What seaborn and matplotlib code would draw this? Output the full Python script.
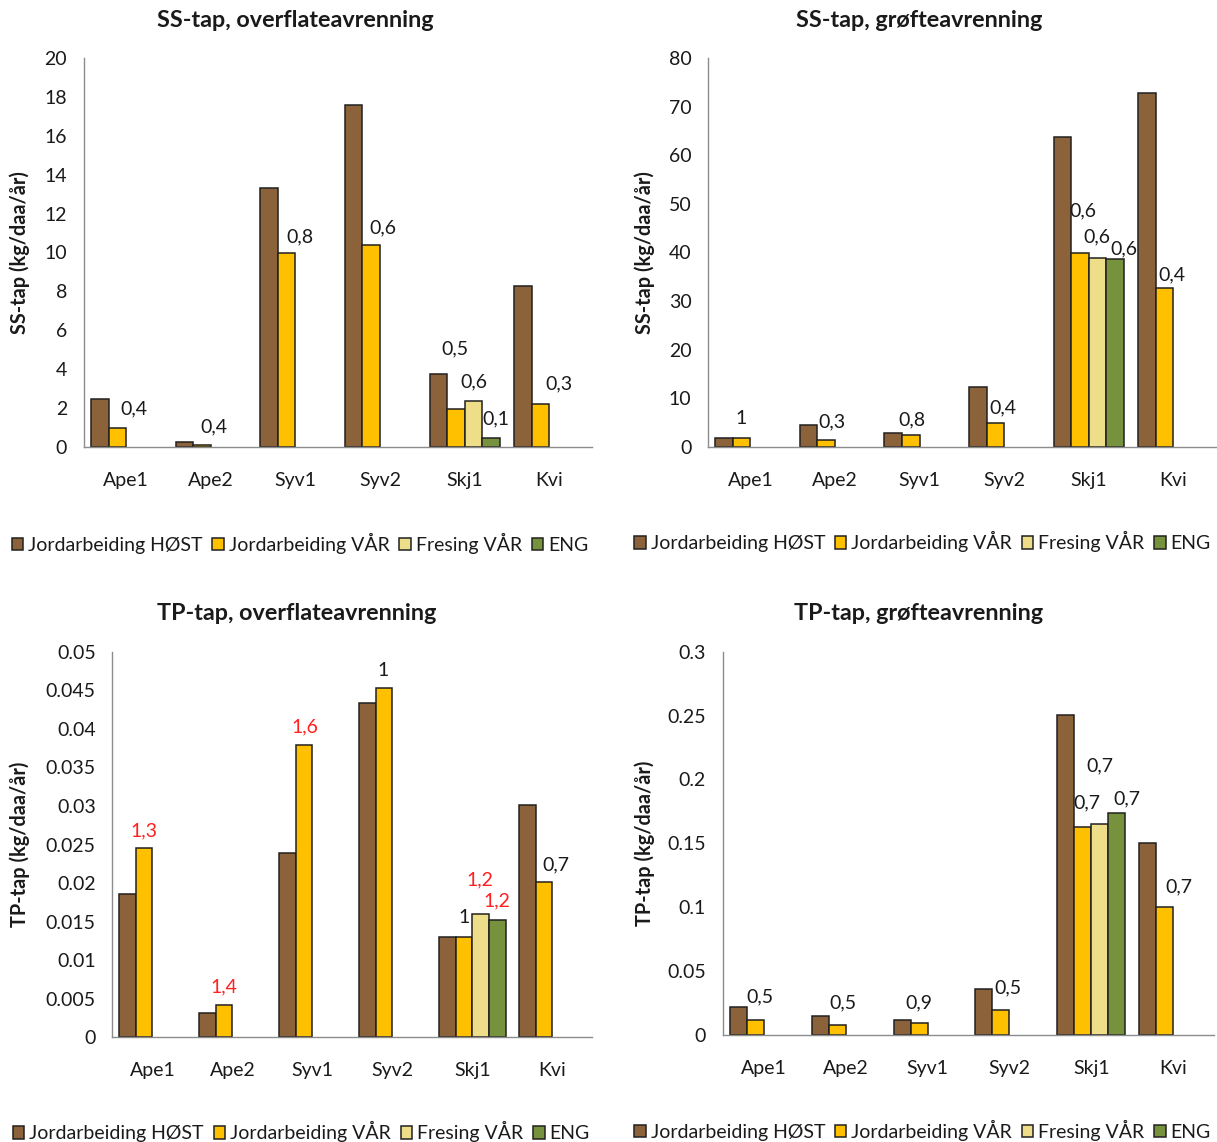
import numpy as np
import pandas as pd
import matplotlib
matplotlib.use("Agg")
import matplotlib.pyplot as plt
from matplotlib.ticker import FuncFormatter, FixedLocator
import seaborn as sns

# ---- data -------------------------------------------------------------
sites = ["Ape1", "Ape2", "Syv1", "Syv2", "Skj1", "Kvi"]
treatments = ["Jordarbeiding HØST", "Jordarbeiding VÅR", "Fresing VÅR", "ENG"]
colors = ["#8B6239", "#FFC000", "#EEDE8A", "#77923C"]

# SS-tap, overflateavrenning (kg/daa/år); None = not measured
ss_surf_host = [2.48, 0.27, 13.3, 17.57, 3.77, 8.26]
ss_surf_var = [0.98, 0.11, 9.97, 10.37, 1.95, 2.18]
ss_surf_fres = [None, None, None, None, 2.37, None]
ss_surf_eng = [None, None, None, None, 0.45, None]

# SS-tap, grøfteavrenning
ss_drain_host = [1.85, 4.46, 2.75, 12.36, 63.7, 72.9]
ss_drain_var = [1.85, 1.44, 2.33, 4.88, 39.8, 32.6]
ss_drain_fres = [None, None, None, None, 38.9, None]
ss_drain_eng = [None, None, None, None, 38.7, None]

# TP-tap, overflateavrenning
tp_surf_host = [0.0186, 0.0031, 0.0239, 0.0434, 0.0130, 0.0301]
tp_surf_var = [0.0245, 0.0042, 0.0379, 0.0453, 0.0130, 0.0201]
tp_surf_fres = [None, None, None, None, 0.0160, None]
tp_surf_eng = [None, None, None, None, 0.0152, None]

# TP-tap, grøfteavrenning
tp_drain_host = [0.0222, 0.0149, 0.0115, 0.0363, 0.2502, 0.1505]
tp_drain_var = [0.0115, 0.0078, 0.0097, 0.0196, 0.1628, 0.1004]
tp_drain_fres = [None, None, None, None, 0.1649, None]
tp_drain_eng = [None, None, None, None, 0.1735, None]

# ratio labels: (site index, text, colour, x offset in categories, y position)
ss_surf_labels = [
    (0, "0,4", "k", 0.09, 1.97), (1, "0,4", "k", 0.04, 1.03),
    (2, "0,8", "k", 0.055, 10.8), (3, "0,6", "k", 0.03, 11.27),
    (4, "0,5", "k", -0.11, 5.04), (4, "0,6", "k", 0.11, 3.34),
    (4, "0,1", "k", 0.37, 1.41), (5, "0,3", "k", 0.12, 3.26),
]
ss_drain_labels = [
    (0, "1", "k", -0.11, 5.84), (1, "0,3", "k", -0.03, 5.15),
    (2, "0,8", "k", -0.09, 5.63), (3, "0,4", "k", -0.016, 8.04),
    (4, "0,6", "k", -0.066, 48.6), (4, "0,6", "k", 0.10, 43.3),
    (4, "0,6", "k", 0.42, 40.7), (5, "0,4", "k", -0.016, 35.4),
]
tp_surf_labels = [
    (0, "1,3", "red", -0.10, 0.0268), (1, "1,4", "red", -0.10, 0.00657),
    (2, "1,6", "red", -0.096, 0.0402), (3, "1", "k", -0.118, 0.0476),
    (4, "1", "k", -0.107, 0.0155), (4, "1,2", "red", 0.10, 0.0204),
    (4, "1,2", "red", 0.31, 0.0177), (5, "0,7", "k", 0.04, 0.0224),
]
tp_drain_labels = [
    (0, "0,5", "k", -0.047, 0.0295), (1, "0,5", "k", -0.028, 0.0253),
    (2, "0,9", "k", -0.107, 0.0248), (3, "0,5", "k", -0.018, 0.0365),
    (4, "0,7", "k", 0.103, 0.211), (4, "0,7", "k", -0.061, 0.182),
    (4, "0,7", "k", 0.435, 0.185), (5, "0,7", "k", 0.063, 0.1156),
]


def frame(host, var, fres, eng):
    rows = []
    for series, name in zip([host, var, fres, eng], treatments):
        for site, v in zip(sites, series):
            if v is not None:
                rows.append({"site": site, "treatment": name, "value": v})
    return pd.DataFrame(rows)


panels = [
    dict(df=frame(ss_surf_host, ss_surf_var, ss_surf_fres, ss_surf_eng),
         labels=ss_surf_labels, ymax=20, step=2, ylabel="SS-tap (kg/daa/år)",
         title="SS-tap, overflateavrenning",
         rect=[0.0689, 0.6088, 0.4172, 0.3402], title_xy=(0.2425, 0.982),
         ylab_x=0.0165, legend_y=0.5245, legend_x=0.2465),
    dict(df=frame(ss_drain_host, ss_drain_var, ss_drain_fres, ss_drain_eng),
         labels=ss_drain_labels, ymax=80, step=10, ylabel="SS-tap (kg/daa/år)",
         title="SS-tap, grøfteavrenning",
         rect=[0.5818, 0.6088, 0.4170, 0.3402], title_xy=(0.755, 0.982),
         ylab_x=0.530, legend_y=0.5255, legend_x=0.758),
    dict(df=frame(tp_surf_host, tp_surf_var, tp_surf_fres, tp_surf_eng),
         labels=tp_surf_labels, ymax=0.05, step=0.005, ylabel="TP-tap (kg/daa/år)",
         title="TP-tap, overflateavrenning",
         rect=[0.0923, 0.0917, 0.3944, 0.3376], title_xy=(0.2435, 0.463),
         ylab_x=0.0165, legend_y=0.0090, legend_x=0.2475),
    dict(df=frame(tp_drain_host, tp_drain_var, tp_drain_fres, tp_drain_eng),
         labels=tp_drain_labels, ymax=0.3, step=0.05, ylabel="TP-tap (kg/daa/år)",
         title="TP-tap, grøfteavrenning",
         rect=[0.5938, 0.0937, 0.4040, 0.3356], title_xy=(0.7545, 0.463),
         ylab_x=0.530, legend_y=0.0105, legend_x=0.758),
]

sns.set_theme(style="white")
plt.rcParams["font.family"] = ["Lato", "DejaVu Sans"]

fig = plt.figure(figsize=(12.17, 11.42), dpi=100)
fig.patch.set_facecolor("white")

text_col = "#1a1a1a"
axis_col = "#8c8c8c"

for p in panels:
    ax = fig.add_axes(p["rect"])
    sns.barplot(data=p["df"], x="site", y="value", hue="treatment",
                order=sites, hue_order=treatments, palette=colors,
                saturation=1, width=0.83, errorbar=None,
                edgecolor="#202020", linewidth=1.1, ax=ax, legend=True)
    handles, labs = ax.get_legend_handles_labels()
    ax.get_legend().remove()

    ax.set_xlim(-0.5, len(sites) - 0.5)
    ax.set_ylim(0, p["ymax"])
    ticks = np.round(np.arange(0, p["ymax"] + p["step"] / 2, p["step"]), 6)
    ax.yaxis.set_major_locator(FixedLocator(ticks))
    ax.yaxis.set_major_formatter(FuncFormatter(lambda v, _: f"{v:g}"))

    # category separators as minor ticks on the x axis
    ax.xaxis.set_minor_locator(FixedLocator(np.arange(-0.5, len(sites), 1.0)))
    ax.tick_params(axis="x", which="major", length=0, pad=18,
                   labelsize=14, labelcolor=text_col)
    ax.tick_params(axis="x", which="minor", length=8, width=1.0,
                   color=axis_col, direction="out")
    ax.tick_params(axis="y", which="major", length=6, width=1.0,
                   color=axis_col, direction="out", pad=6,
                   labelsize=14, labelcolor=text_col)

    for side in ["top", "right"]:
        ax.spines[side].set_visible(False)
    for side in ["left", "bottom"]:
        ax.spines[side].set_color(axis_col)
        ax.spines[side].set_linewidth(1.0)
    ax.set_xlabel("")
    ax.set_ylabel("")
    ax.grid(False)

    for idx, txt, col, dx, yv in p["labels"]:
        ax.text(idx + dx, yv, txt, ha="center", va="center",
                fontsize=14, color=("#ff2020" if col == "red" else text_col))

    fig.text(p["title_xy"][0], p["title_xy"][1], p["title"], ha="center",
             va="center", fontsize=16.8, fontweight="bold", color=text_col)
    cy = p["rect"][1] + p["rect"][3] * 0.5
    fig.text(p["ylab_x"], cy, p["ylabel"], rotation=90, ha="center",
             va="center", fontsize=14.3, fontweight="bold", color=text_col)

    leg = fig.legend(handles, labs, loc="center",
                     bbox_to_anchor=(p["legend_x"], p["legend_y"]),
                     ncol=4, frameon=False, fontsize=14,
                     handlelength=0.6, handleheight=0.6,
                     handletextpad=0.25, columnspacing=0.5,
                     borderaxespad=0, borderpad=0)
    for t in leg.get_texts():
        t.set_color(text_col)

fig.savefig("out.png", dpi=100, facecolor="white")
